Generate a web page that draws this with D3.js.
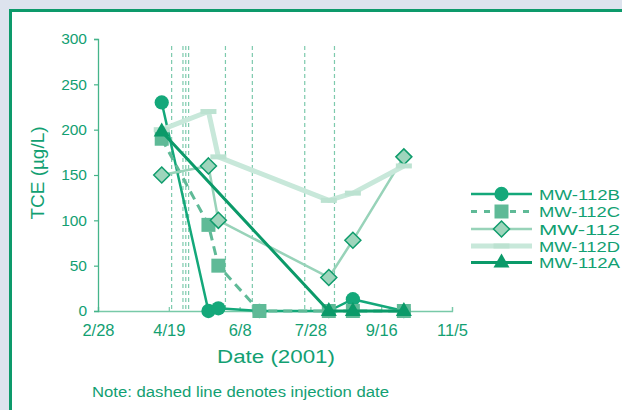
<!DOCTYPE html>
<html>
<head>
<meta charset="utf-8">
<script src="https://cdn.jsdelivr.net/npm/d3@7"></script>
<style>
  html, body { margin: 0; padding: 0; background: #dde3ee; }
  svg { display: block; }
  text { font-family: "Liberation Sans", Arial, Helvetica, sans-serif; fill: #12a072; }
</style>
</head>
<body>
<svg id="chart" width="622" height="410"></svg>
<script>
// ---- data ----
const sampleDates = ["2001-04-14","2001-05-17","2001-05-24","2001-06-22","2001-08-10","2001-08-27","2001-10-02"];
const mw112B = [230, 0, 3, 0, 0, 13, 0];
const mw112C = [190, 95, 50, 0, 0, 0, 0];
const mw112  = [150, 160, 100, null, 37, 78, 170];
const mw112D = [200, 220, 170, null, 122, 130, 160];
const mw112A = [198, null, null, null, 0, 0, 0];
const injectionDates = ["2001-04-21","2001-04-29","2001-05-01","2001-05-03","2001-05-29","2001-06-17","2001-07-24","2001-08-14"];
const xTickLabels = ["2/28","4/19","6/8","7/28","9/16","11/5"];
const yTickValues = [0, 50, 100, 150, 200, 250, 300];
const seriesNames = ["MW-112B","MW-112C","MW-112","MW-112D","MW-112A"];

const parse = d3.timeParse("%Y-%m-%d");
const svg = d3.select("#chart");

// panel
svg.append("rect").attr("x", 10.5).attr("y", 10.5).attr("width", 640).attr("height", 420)
  .attr("fill", "#ffffff").attr("stroke", "#0d9a6b").attr("stroke-width", 3);

const x = d3.scaleTime().domain([parse("2001-02-28"), parse("2001-11-05")]).range([98, 452]);
const y = d3.scaleLinear().domain([0, 300]).range([311, 39]);

// injection lines
svg.append("g").selectAll("line").data(injectionDates).join("line")
  .attr("x1", d => x(parse(d))).attr("x2", d => x(parse(d)))
  .attr("y1", 46).attr("y2", 311)
  .attr("stroke", "#7dcaad").attr("stroke-width", 1.2).attr("stroke-dasharray", "4,3");

// axes
const xTickVals = xTickLabels.map((s, i) => d3.timeDay.offset(parse("2001-02-28"), i * 50));
const xAxis = svg.append("g").attr("transform", "translate(0,311)")
  .call(d3.axisTop(x).tickValues(xTickVals).tickSize(4).tickFormat((d, i) => xTickLabels[i]));
xAxis.select(".domain").attr("stroke", "#78c9a8").attr("stroke-width", 1.3);
xAxis.selectAll(".tick line").attr("stroke", "#78c9a8").attr("stroke-width", 1.2);
xAxis.selectAll(".tick text").attr("y", 25).attr("dy", 0)
  .style("font-size", "16.5px").style("fill", "#12a072").attr("font-family", null);

const yAxis = svg.append("g").attr("transform", "translate(98,0)")
  .call(d3.axisLeft(y).tickValues(yTickValues).tickSize(4).tickPadding(7));
yAxis.select(".domain").attr("stroke", "#45b48a").attr("stroke-width", 1.3);
yAxis.selectAll(".tick line").attr("stroke", "#45b48a").attr("stroke-width", 1.2);
yAxis.selectAll(".tick text").style("font-size", "15.5px").style("fill", "#12a072").attr("font-family", null);

// series
const styles = [
  { vals: mw112B, color: "#14a87a", width: 2.5, dash: null, marker: "circle", fill: "#14a87a" },
  { vals: mw112C, color: "#5fba97", width: 3, dash: "9,6", marker: "square", fill: "#5fba97" },
  { vals: mw112,  color: "#98d3b9", width: 2.5, dash: null, marker: "diamond", fill: "#9ed5bc", stroke: "#0f9c6c" },
  { vals: mw112D, color: "#c8e8da", width: 5, dash: null, marker: "bar", fill: "#bce2d1" },
  { vals: mw112A, color: "#0b9a69", width: 3, dash: null, marker: "triangle", fill: "#0b9a69" }
];

const line = d3.line().x(d => x(d.date)).y(d => y(d.v));

function markerPath(type) {
  switch (type) {
    case "circle": return d3.symbol(d3.symbolCircle, 160)();
    case "square": return "M-7,-7H7V7H-7Z";
    case "diamond": return "M0,-8L8,0L0,8L-8,0Z";
    case "triangle": return "M0,-9L8,5L-8,5Z";
    case "bar": return "M-8,-2.5H8V2.5H-8Z";
  }
}

styles.forEach(s => {
  const pts = sampleDates.map((d, i) => ({ date: parse(d), v: s.vals[i] })).filter(p => p.v !== null);
  const g = svg.append("g");
  g.append("path").attr("d", line(pts)).attr("fill", "none")
    .attr("stroke", s.color).attr("stroke-width", s.width)
    .attr("stroke-dasharray", s.dash).attr("stroke-linejoin", "round");
  g.selectAll("path.m").data(pts).join("path").attr("class", "m")
    .attr("d", markerPath(s.marker))
    .attr("transform", p => `translate(${x(p.date)},${y(p.v)})`)
    .attr("fill", s.fill)
    .attr("stroke", s.stroke || "none").attr("stroke-width", s.stroke ? 1.5 : 0);
});

// legend
const legendY = [194, 211.5, 229, 246, 262.5];
const lg = svg.append("g");
styles.forEach((s, i) => {
  const yy = legendY[i];
  lg.append("line").attr("x1", 471).attr("x2", 532).attr("y1", yy).attr("y2", yy)
    .attr("stroke", s.color).attr("stroke-width", s.width).attr("stroke-dasharray", s.dash ? "6,7" : null);
  lg.append("path").attr("d", markerPath(s.marker)).attr("transform", `translate(501.5,${yy})`)
    .attr("fill", s.fill).attr("stroke", s.stroke || "none").attr("stroke-width", s.stroke ? 1.5 : 0);
  lg.append("text").attr("x", 539).attr("y", yy + 5.5).text(seriesNames[i])
    .style("font-size", "15.5px").attr("textLength", 81).attr("lengthAdjust", "spacingAndGlyphs");
});

// titles
svg.append("text").attr("x", 276).attr("y", 363).attr("text-anchor", "middle")
  .style("font-size", "18px").attr("textLength", 118).attr("lengthAdjust", "spacingAndGlyphs")
  .text("Date (2001)");
svg.append("text").attr("transform", "translate(44,173) rotate(-90)").attr("text-anchor", "middle")
  .style("font-size", "17.5px").attr("textLength", 93).attr("lengthAdjust", "spacingAndGlyphs")
  .text("TCE (µg/L)");
svg.append("text").attr("x", 92).attr("y", 397)
  .style("font-size", "14px").attr("textLength", 297).attr("lengthAdjust", "spacingAndGlyphs")
  .text("Note: dashed line denotes injection date");
</script>
</body>
</html>
